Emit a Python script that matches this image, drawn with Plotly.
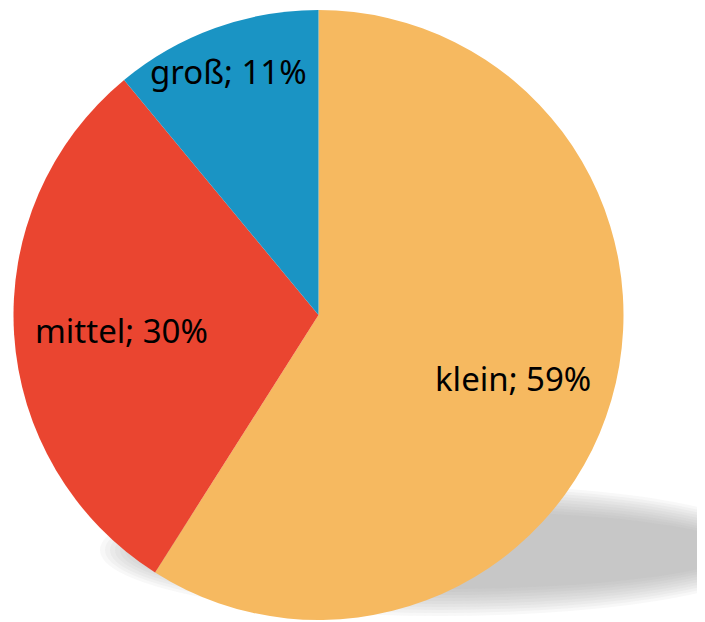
import plotly.graph_objects as go

labels = ["klein", "mittel", "groß"]
values = [59, 30, 11]
colors = ["#F6B960", "#EA4530", "#1A94C4"]

W, H = 705, 622
OX, OY = 8, 8  # page body margin offset


def px(x):
    return (x - OX) / W


def py(y):
    return 1 - (y - OY) / H


fig = go.Figure()

fig.add_trace(go.Pie(
    labels=labels, values=values, sort=False, direction="clockwise", rotation=0,
    marker=dict(colors=colors, line=dict(width=0)),
    textinfo="none", hoverinfo="label+percent", showlegend=False,
    domain=dict(x=[px(13), px(624)], y=[py(620), py(10)]),
))

# soft blurred shadow (stacked translucent ellipses)
cx, cy = 440, 550
n = 10
for i in range(n):
    rx = 340 - i * 5
    ry = 66 - i * 3
    fig.add_shape(type="circle", xref="paper", yref="paper",
                  x0=px(cx - rx), x1=px(cx + rx),
                  y0=py(cy + ry), y1=py(cy - ry),
                  fillcolor="rgba(150,150,150,0.065)", line=dict(width=0), layer="below")

# labels placed at slice positions
pos = [(513, 378), (121, 330), (228, 72)]
total = sum(values)
for lab, v, (x, y) in zip(labels, values, pos):
    fig.add_annotation(x=px(x), y=py(y), xref="paper", yref="paper",
                       xanchor="center", yanchor="middle",
                       text=f"{lab}; {round(100 * v / total)}%", showarrow=False,
                       font=dict(family="Noto Sans", size=33, color="#000000"))

fig.update_layout(width=W, height=H, margin=dict(l=0, r=0, t=0, b=0),
                  paper_bgcolor="white", plot_bgcolor="white")
fig.write_html("out.html")
